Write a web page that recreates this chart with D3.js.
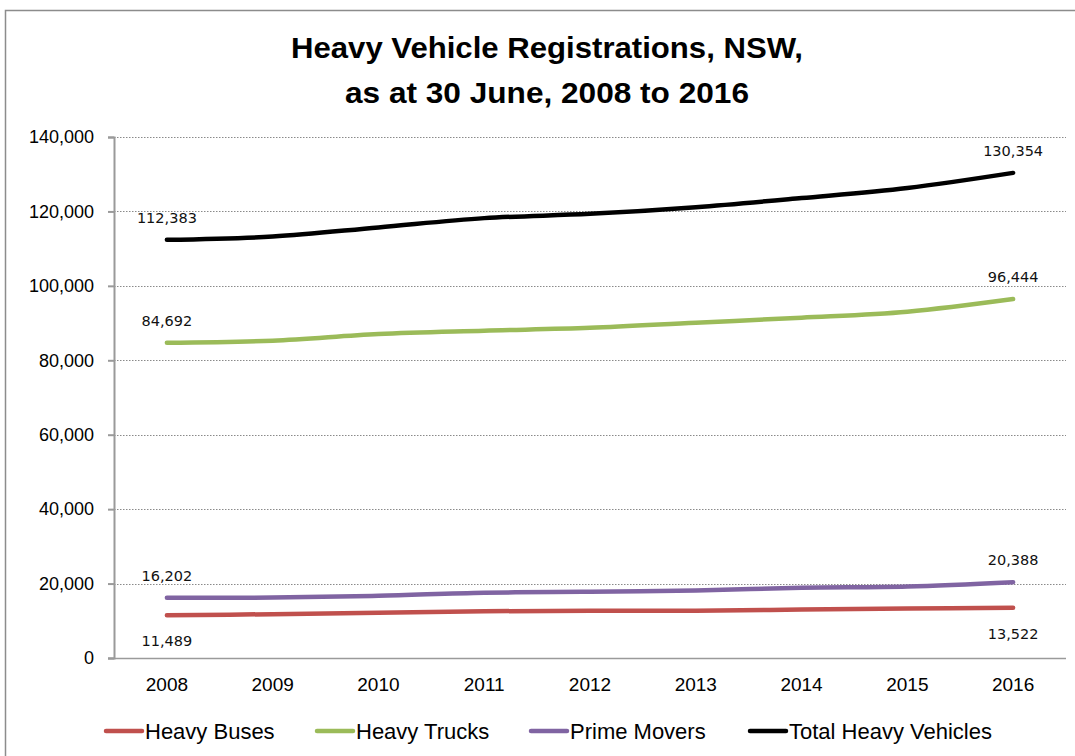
<!DOCTYPE html>
<html>
<head>
<meta charset="utf-8">
<script src="https://cdn.jsdelivr.net/npm/d3@7"></script>
<style>
  body { margin: 0; background: #fff; }
  text { font-family: "Liberation Sans", Arial, sans-serif; fill: #000; }
</style>
</head>
<body>
<div id="chart"></div>
<script>
const years = ["2008", "2009", "2010", "2011", "2012", "2013", "2014", "2015", "2016"]
const heavyBuses = [11489, 11770, 12140, 12570, 12680, 12700, 13030, 13300, 13522]
const heavyTrucks = [84692, 85260, 87060, 87950, 88720, 90100, 91450, 93060, 96444]
const primeMovers = [16202, 16230, 16720, 17530, 17800, 18150, 18870, 19220, 20388]
const totalHeavy = [112383, 113250, 115700, 118200, 119350, 121150, 123600, 126300, 130354]
const yTicks = [0, 20000, 40000, 60000, 80000, 100000, 120000, 140000]

const series = [
  { name: "Heavy Buses", values: heavyBuses, color: "#C0504D", below: true },
  { name: "Heavy Trucks", values: heavyTrucks, color: "#9BBB59", below: false },
  { name: "Prime Movers", values: primeMovers, color: "#8064A2", below: false },
  { name: "Total Heavy Vehicles", values: totalHeavy, color: "#000000", below: false }
]

const width = 1075, height = 756
const margin = { top: 137, right: 9, bottom: 98, left: 114 }

const svg = d3.select("#chart")
  .append("svg")
  .attr("width", width)
  .attr("height", height)

// chart frame (only top and left visible)
svg.append("rect")
  .attr("x", 5.5).attr("y", 10.5)
  .attr("width", width + 20).attr("height", height + 20)
  .attr("fill", "none")
  .attr("stroke", "#8c8c8c")
  .attr("stroke-width", 1.5)

// title
svg.append("text")
  .attr("x", 547).attr("y", 58)
  .attr("text-anchor", "middle")
  .attr("font-size", 29).attr("font-weight", "bold")
  .attr("textLength", 512).attr("lengthAdjust", "spacingAndGlyphs")
  .text("Heavy Vehicle Registrations, NSW,")
svg.append("text")
  .attr("x", 547).attr("y", 103)
  .attr("text-anchor", "middle")
  .attr("font-size", 29).attr("font-weight", "bold")
  .attr("textLength", 404).attr("lengthAdjust", "spacingAndGlyphs")
  .text("as at 30 June, 2008 to 2016")

const x = d3.scaleBand()
  .domain(years)
  .range([margin.left, width - margin.right])

const y = d3.scaleLinear()
  .domain([0, 140000])
  .range([height - margin.bottom, margin.top])

const fmt = d3.format(",")

// gridlines
svg.append("g")
  .selectAll("line")
  .data(yTicks.filter(d => d > 0))
  .join("line")
  .attr("x1", margin.left).attr("x2", width - margin.right)
  .attr("y1", d => Math.round(y(d)) + 0.5).attr("y2", d => Math.round(y(d)) + 0.5)
  .attr("stroke", "#8a8a8a")
  .attr("stroke-width", 1)
  .attr("stroke-dasharray", "1.5,1.5")

// y axis
const yAxis = svg.append("g")
  .attr("transform", `translate(${margin.left},0)`)
  .call(d3.axisLeft(y).tickValues(yTicks).tickFormat(fmt).tickSize(6).tickPadding(14))
yAxis.select(".domain").attr("stroke", "#9a9a9a").attr("stroke-width", 2)
yAxis.selectAll(".tick line").attr("stroke", "#9a9a9a").attr("stroke-width", 2)
yAxis.selectAll(".tick text")
  .attr("font-size", 18)
  .style("font-family", "'Liberation Sans', Arial, sans-serif")
  .attr("fill", "#000")

// x axis
const xAxis = svg.append("g")
  .attr("transform", `translate(0,${height - margin.bottom})`)
  .call(d3.axisBottom(x).tickSize(0).tickPadding(20))
xAxis.select(".domain").attr("stroke", "#9a9a9a").attr("stroke-width", 1.5)
  .attr("d", `M${margin.left - 6},0.5H${width - margin.right}`)
xAxis.selectAll(".tick text")
  .attr("font-size", 19)
  .style("font-family", "'Liberation Sans', Arial, sans-serif")
  .attr("fill", "#000")

// lines
const cx = (d, i) => x(years[i]) + x.bandwidth() / 2
const line = d3.line()
  .x(cx)
  .y(d => y(d))
  .curve(d3.curveCatmullRom.alpha(0.5))

svg.append("g")
  .selectAll("path")
  .data(series)
  .join("path")
  .attr("d", d => line(d.values))
  .attr("fill", "none")
  .attr("stroke", d => d.color)
  .attr("stroke-width", 4.5)
  .attr("stroke-linecap", "round")
  .attr("stroke-linejoin", "round")

// data labels on first and last points
const labels = []
series.forEach(s => {
  [0, years.length - 1].forEach(i => {
    labels.push({ value: s.values[i], i, below: s.below })
  })
})
svg.append("g")
  .selectAll("text")
  .data(labels)
  .join("text")
  .attr("x", d => cx(null, d.i))
  .attr("y", d => y(d.value) + (d.below ? 31 : -17))
  .attr("text-anchor", "middle")
  .attr("font-size", 14.5)
  .style("font-family", "'DejaVu Sans', sans-serif")
  .style("fill", "#111")
  .text(d => fmt(d.value))

// legend
const legendX = [105, 316, 530, 749]
const legend = svg.append("g")
  .selectAll("g")
  .data(series)
  .join("g")
  .attr("transform", (d, i) => `translate(${legendX[i]},731)`)
legend.append("line")
  .attr("x1", 1).attr("x2", 37)
  .attr("stroke", d => d.color)
  .attr("stroke-width", 4.5)
  .attr("stroke-linecap", "round")
legend.append("text")
  .attr("x", 40).attr("y", 8)
  .attr("font-size", 22)
  .text(d => d.name)
</script>
</body>
</html>
